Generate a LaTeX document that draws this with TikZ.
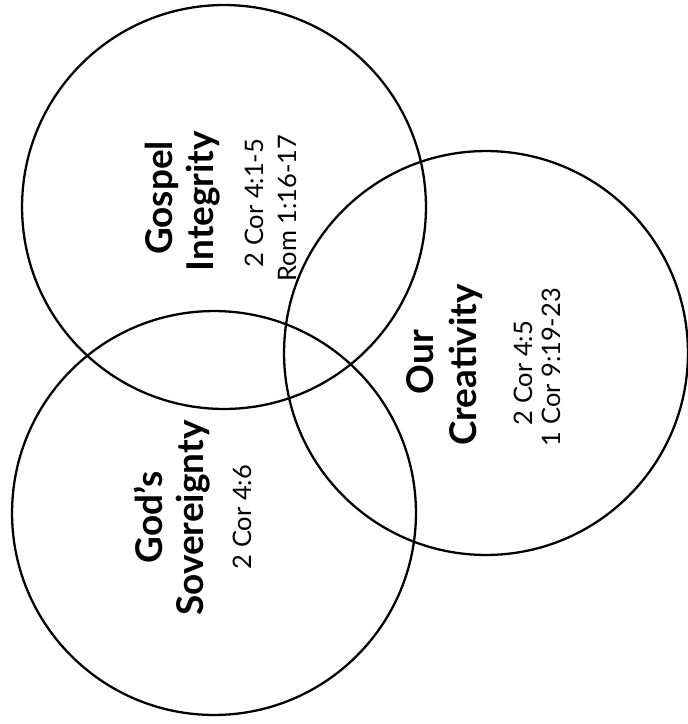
\documentclass[tikz,border=0pt]{standalone}
\usepackage{fontspec}
\setmainfont{Lato}
\usetikzlibrary{positioning}

\begin{document}
\begin{tikzpicture}[x=0.02cm, y=-0.02cm,
    ring/.style={circle, draw, line width=1.3pt, minimum size=8.08cm, inner sep=0pt},
    title/.style={rotate=90, anchor=base, inner sep=0pt, font=\bfseries\fontsize{21}{25}\selectfont},
    verse/.style={rotate=90, anchor=base, inner sep=0pt, font=\fontsize{14.5}{17}\selectfont}]
    \useasboundingbox (0,0) rectangle (688,724);

    % The three circles
    \node[ring] (integritycircle) at (224,207) {};
    \node[ring] (creativitycircle) at (486,353) {};
    \node[ring] (sovereigntycircle) at (214,513) {};

    % Gospel Integrity
    \node[title] (gospel) at (172,198) {Gospel};
    \node[title] (integrity) at (213,201) {Integrity};
    \node[verse] (integrityrefa) at (263,203) {2 Cor 4:1-5};
    \node[verse] (integrityrefb) at (296,208) {Rom 1:16-17};

    % Our Creativity
    \node[title] (our) at (433,362) {Our};
    \node[title] (creativity) at (476,365) {Creativity};
    \node[verse] (creativityrefa) at (532,373) {2 Cor 4:5};
    \node[verse] (creativityrefb) at (560,367) {1 Cor 9:19-23};

    % God's Sovereignty
    \node[title] (gods) at (162,517) {God’s};
    \node[title] (sovereignty) at (203,518) {Sovereignty};
    \node[verse] (sovereigntyref) at (251,517) {2 Cor 4:6};
\end{tikzpicture}
\end{document}
